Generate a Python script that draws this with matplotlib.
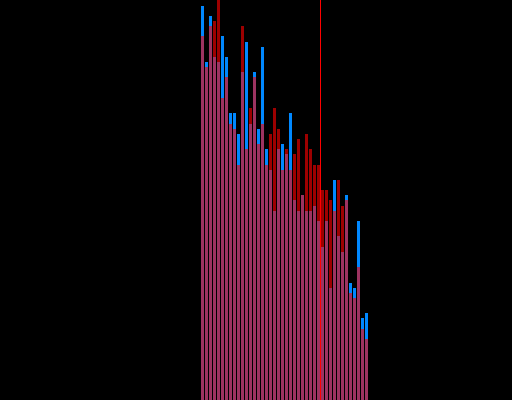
import numpy as np
import matplotlib
matplotlib.use("Agg")
import matplotlib.pyplot as plt

# bar heights (image rows above the bottom edge, top = 400)
blue = [394, 338, 384, 343, 338, 364, 343, 287, 287, 266,
        328, 358, 276, 328, 271, 353, 251, 230, 189, 251,
        256, 246, 287, 200, 189, 205, 189, 189, 194, 179,
        153, 179, 112, 220, 164, 148, 205, 117, 112, 179,
        82, 87]
red = [364, 333, 374, 379, 410, 302, 323, 276, 271, 235,
       374, 251, 292, 323, 256, 276, 235, 266, 292, 271,
       230, 251, 230, 246, 261, 205, 266, 251, 235, 235,
       210, 210, 200, 189, 220, 194, 200, 107, 102, 133,
       71, 61]
MEAN_POS = 29.5

idx = np.arange(len(red))

fig = plt.figure(figsize=(5.12, 4.0), dpi=100, facecolor="black")
ax = fig.add_axes([0, 0, 1, 1])
ax.set_facecolor("black")

ax.bar(idx, blue, width=0.75, color="#0088ff", linewidth=0)
ax.bar(idx, red, width=0.75, color="#ff0000", alpha=0.62, linewidth=0)
# one pixel wide marker (a bin step is 4 px)
half = 0.125
ax.axvspan(MEAN_POS - half, MEAN_POS + half, color="#ff0000", lw=0, zorder=5)

ax.set_xlim(-50.625, 77.375)
ax.set_ylim(0, 400)
ax.axis("off")

fig.savefig("out.png", dpi=100, facecolor="black")
plt.close(fig)
